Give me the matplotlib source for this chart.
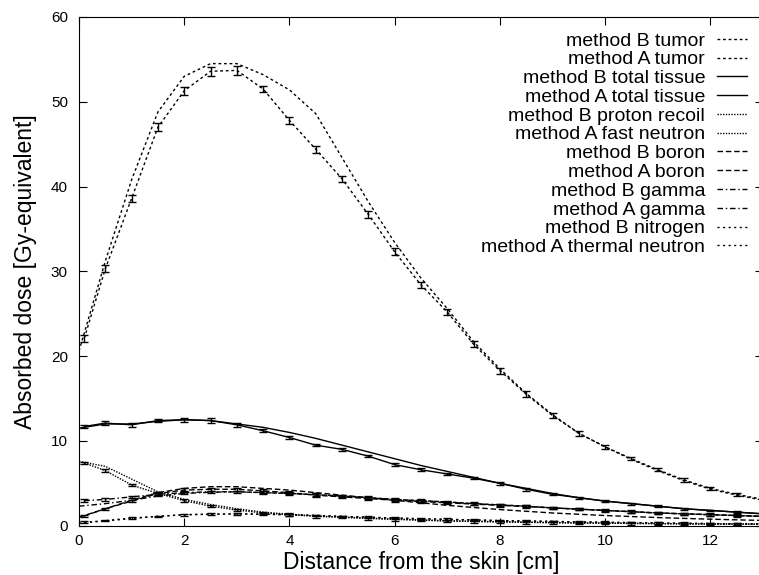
import matplotlib.pyplot as plt
import numpy as np

plt.rcParams['font.family'] = ['Liberation Sans', 'DejaVu Sans']

# method A depths (with error bars) and method B depths (lines)
x_a = [0.1, 0.5, 1.0, 1.5, 2.0, 2.5, 3.0, 3.5, 4.0, 4.5, 5.0, 5.5, 6.0, 6.5,
       7.0, 7.5, 8.0, 8.5, 9.0, 9.5, 10.0, 10.5, 11.0, 11.5, 12.0, 12.5, 13.0]
x_b = [0.0, 0.5, 1.0, 1.5, 2.0, 2.5, 3.0, 3.5, 4.0, 4.5, 5.0, 5.5, 6.0, 6.5,
       7.0, 7.5, 8.0, 8.5, 9.0, 9.5, 10.0, 10.5, 11.0, 11.5, 12.0, 12.5, 13.0]

tumor_a = [22.1, 30.3, 38.6, 47.0, 51.3, 53.6, 53.7, 51.5, 47.8, 44.4, 40.9, 36.7, 32.3, 28.4,
           25.2, 21.4, 18.3, 15.5, 13.0, 10.9, 9.3, 7.9, 6.6, 5.4, 4.4, 3.7, 3.1]
tumor_a_err = [0.4, 0.4, 0.4, 0.5, 0.5, 0.5, 0.5, 0.4, 0.4, 0.4, 0.4, 0.4, 0.4, 0.4,
               0.4, 0.35, 0.35, 0.35, 0.3, 0.3, 0.25, 0.2, 0.2, 0.2, 0.15, 0.15, 0.15]
tumor_b = [20.6, 31.2, 40.8, 48.8, 53.0, 54.5, 54.5, 53.2, 51.4, 48.6, 43.4, 38.2, 33.4, 29.2,
           25.6, 21.7, 18.5, 15.6, 13.1, 10.9, 9.3, 7.8, 6.5, 5.3, 4.3, 3.6, 3.0]

tissue_a = [11.7, 12.1, 11.9, 12.4, 12.5, 12.4, 11.9, 11.2, 10.4, 9.5, 9.0, 8.2, 7.2, 6.6,
            6.1, 5.6, 5.0, 4.3, 3.7, 3.3, 2.9, 2.6, 2.3, 2.0, 1.8, 1.6, 1.4]
tissue_a_err = [0.2, 0.2, 0.2, 0.2, 0.25, 0.25, 0.2, 0.2, 0.2, 0.15, 0.15, 0.15, 0.15, 0.15,
                0.15, 0.15, 0.15, 0.15, 0.1, 0.1, 0.1, 0.1, 0.1, 0.1, 0.1, 0.1, 0.1]
tissue_b = [11.5, 12.0, 12.0, 12.3, 12.5, 12.4, 12.0, 11.6, 11.0, 10.3, 9.5, 8.7, 7.9, 7.1,
            6.4, 5.7, 5.0, 4.4, 3.8, 3.3, 2.9, 2.6, 2.3, 2.0, 1.8, 1.6, 1.4]

fast_a = [7.4, 6.5, 4.8, 3.8, 2.95, 2.3, 1.85, 1.5, 1.3, 1.1, 1.0, 0.85, 0.75, 0.65,
          0.55, 0.5, 0.45, 0.4, 0.35, 0.32, 0.3, 0.27, 0.25, 0.22, 0.2, 0.19, 0.18]
fast_a_err = [0.15] * 27
proton_b = [7.6, 7.0, 5.5, 4.0, 3.1, 2.5, 2.0, 1.6, 1.35, 1.15, 1.0, 0.9, 0.78, 0.68,
            0.58, 0.52, 0.46, 0.41, 0.37, 0.33, 0.3, 0.27, 0.25, 0.22, 0.2, 0.19, 0.18]

boron_a = [1.15, 2.0, 2.9, 3.8, 4.2, 4.3, 4.3, 4.1, 3.9, 3.6, 3.4, 3.2, 3.0, 2.85,
           2.7, 2.55, 2.4, 2.25, 2.1, 1.95, 1.8, 1.65, 1.5, 1.4, 1.3, 1.2, 1.1]
boron_a_err = [0.1, 0.1, 0.15, 0.15, 0.2, 0.2, 0.2, 0.2, 0.2, 0.2, 0.15, 0.15, 0.15, 0.15,
               0.15, 0.15, 0.15, 0.15, 0.1, 0.1, 0.1, 0.1, 0.1, 0.1, 0.1, 0.1, 0.1]
boron_b = [1.0, 2.0, 3.0, 3.9, 4.4, 4.6, 4.6, 4.4, 4.2, 3.9, 3.6, 3.3, 3.0, 2.7,
           2.4, 2.15, 1.9, 1.7, 1.5, 1.35, 1.2, 1.08, 0.96, 0.86, 0.77, 0.69, 0.62]

gamma_a = [2.95, 3.1, 3.4, 3.7, 3.9, 4.0, 4.0, 3.9, 3.8, 3.65, 3.5, 3.3, 3.1, 2.95,
           2.8, 2.6, 2.45, 2.3, 2.1, 1.95, 1.8, 1.65, 1.5, 1.4, 1.3, 1.2, 1.1]
gamma_a_err = [0.15] * 27
gamma_b = [2.3, 2.6, 3.0, 3.5, 3.8, 3.95, 4.0, 3.9, 3.8, 3.65, 3.5, 3.3, 3.1, 2.95,
           2.8, 2.6, 2.45, 2.3, 2.1, 1.95, 1.8, 1.65, 1.5, 1.4, 1.3, 1.2, 1.1]

thermal_a = [0.4, 0.6, 0.9, 1.1, 1.3, 1.35, 1.4, 1.35, 1.3, 1.2, 1.1, 1.0, 0.9, 0.82,
             0.75, 0.68, 0.6, 0.55, 0.5, 0.45, 0.4, 0.36, 0.32, 0.28, 0.25, 0.22, 0.2]
thermal_a_err = [0.1] * 27
nitrogen_b = [0.3, 0.55, 0.85, 1.1, 1.3, 1.35, 1.4, 1.35, 1.3, 1.2, 1.1, 1.0, 0.9, 0.82,
              0.75, 0.68, 0.6, 0.55, 0.5, 0.45, 0.4, 0.36, 0.32, 0.28, 0.25, 0.22, 0.2]

tumor_ls = (0, (2, 2))
fine_ls = (0, (1, 1))
dash_ls = (0, (4, 2))
dashdot_ls = (0, (4, 2, 1, 2))
loose_ls = (0, (1.5, 2.5))

fig = plt.figure(figsize=(7.59, 5.75), dpi=100)
ax = fig.add_axes([79 / 759, 49.3 / 575, 684 / 759, 508.7 / 575])

series = [
    ('method B tumor', x_b, tumor_b, None, tumor_ls),
    ('method A tumor', x_a, tumor_a, tumor_a_err, tumor_ls),
    ('method B total tissue', x_b, tissue_b, None, '-'),
    ('method A total tissue', x_a, tissue_a, tissue_a_err, '-'),
    ('method B proton recoil', x_b, proton_b, None, fine_ls),
    ('method A fast neutron', x_a, fast_a, fast_a_err, fine_ls),
    ('method B boron', x_b, boron_b, None, dash_ls),
    ('method A boron', x_a, boron_a, boron_a_err, dash_ls),
    ('method B gamma', x_b, gamma_b, None, dashdot_ls),
    ('method A gamma', x_a, gamma_a, gamma_a_err, dashdot_ls),
    ('method B nitrogen', x_b, nitrogen_b, None, loose_ls),
    ('method A thermal neutron', x_a, thermal_a, thermal_a_err, loose_ls),
]

for label, xs, ys, err, ls in series:
    ax.plot(xs, ys, color='black', linestyle=ls, linewidth=1.0, label=label)
    if err is not None:
        ax.errorbar(xs, ys, yerr=err, fmt='none', ecolor='black',
                    elinewidth=1.0, capsize=3, capthick=1.0)

ax.set_xlim(0, 13)
ax.set_ylim(0, 60)
ax.set_xticks(np.arange(0, 13, 2))
ax.set_yticks(np.arange(0, 61, 10))
ax.tick_params(direction='in', length=6, top=True, right=True, labelsize=11)
ax.tick_params(axis='y', pad=8)
ax.tick_params(axis='x', pad=6)
ax.set_xlabel('Distance from the skin [cm]', fontsize=16.5, labelpad=2)
ax.set_ylabel('Absorbed dose [Gy-equivalent]', fontsize=16.5, labelpad=10)

ax.legend(loc='upper right', bbox_to_anchor=(747 / 759, 1 - 32 / 575),
          bbox_transform=fig.transFigure, frameon=False, markerfirst=False,
          fontsize=14, handlelength=1.55, handletextpad=0.6, labelspacing=0.06,
          borderaxespad=0, borderpad=0)

fig.savefig('out.png', dpi=100)
